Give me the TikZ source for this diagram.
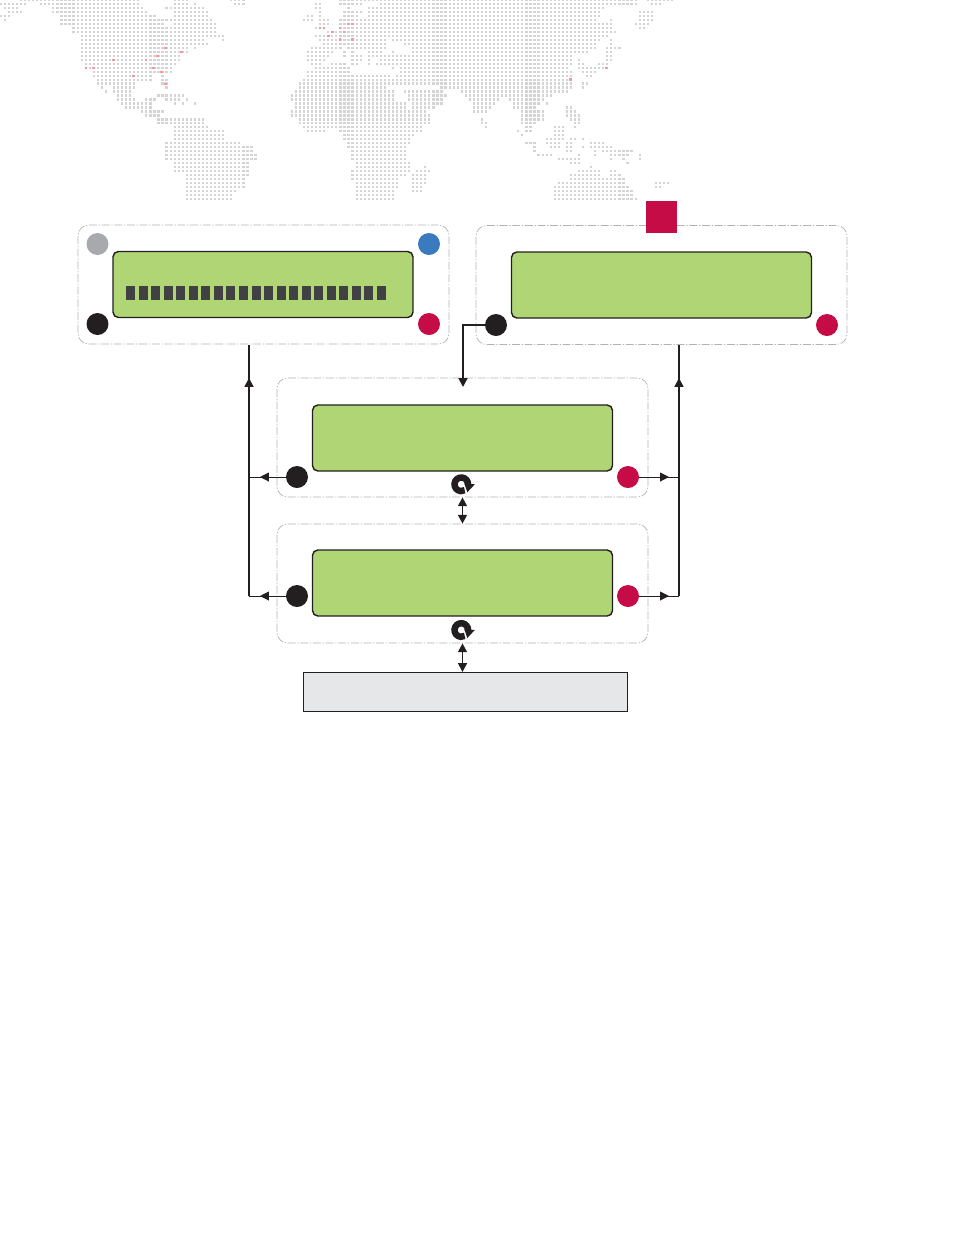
\documentclass[tikz,border=0pt]{standalone}
\usepackage{amsmath,amssymb}
\usetikzlibrary{arrows.meta}
\definecolor{mapgray}{HTML}{D4D4D5}
\definecolor{mapred}{HTML}{F29A9A}
\definecolor{inkblack}{HTML}{231F20}
\definecolor{crimson}{HTML}{C60C46}
\definecolor{portblue}{HTML}{3A7ABF}
\definecolor{portgray}{HTML}{A7A9AC}
\definecolor{lcdgreen}{HTML}{B0D575}
\definecolor{lcdbar}{HTML}{414042}
\definecolor{panelgray}{HTML}{E6E7E8}
\tikzset{
  groupbox/.style={draw=black!30,line width=0.4pt,dash pattern=on 4.5pt off 1pt on 0.7pt off 1pt,
    rounded corners=6pt,minimum width=7.42cm,minimum height=2.38cm,inner sep=0pt},
  lcdbox/.style={draw=inkblack,fill=lcdgreen,line width=0.8pt,rounded corners=3pt,
    minimum width=6cm,minimum height=1.32cm,inner sep=0pt},
  port/.style={circle,minimum size=0.44cm,inner sep=0pt},
  panelbox/.style={draw=inkblack,fill=panelgray,line width=0.6pt,
    minimum width=6.48cm,minimum height=0.78cm,inner sep=0pt},
  lcdcell/.style={fill=lcdbar,minimum width=0.18cm,minimum height=0.28cm,inner sep=0pt},
  bus/.style={draw=inkblack,line width=1.1pt},
  tap/.style={draw=inkblack,line width=0.55pt},
}
% one row of the map: offset, then y/{from/to,...} in thirds of a pixel
\newcommand{\maprows}[2]{%
  \foreach \ry/\runs in {#2}{%
    \foreach \ra/\rb in \runs{%
      \pgfmathtruncatemacro{\ca}{round((\ra+#1-2.4)/12.13)}%
      \pgfmathtruncatemacro{\cb}{round((\rb+#1-2.4)/12.13)}%
      \foreach \c in {\ca,...,\cb}{%
        \fill[mapgray] ({(2.4+12.13*\c)/3-1.1},{\ry*0.995/3-1.1}) rectangle ++(2.2,2.2);
      }%
    }%
  }%
}
\newcommand{\loopicon}[1]{%
  \draw[inkblack,line width=3.7pt] ([shift={(5:6.8)}]#1) arc[start angle=5,end angle=-300,radius=6.8];
  \fill[inkblack] ([shift={(3,-1)}]#1) -- ([shift={(13.5,0)}]#1) -- ([shift={(6,8)}]#1) -- cycle;
}
\begin{document}
\begin{tikzpicture}[x=0.02cm,y=-0.02cm,>={Triangle[length=5pt,width=5pt]}]
\useasboundingbox (0,0) rectangle (954,1235);
% map
\maprows{0}{
0/{60/415,520/560,690/725},
12/{8/80,125/155,165/415,520/555,590/590,710/725,950/965},
24/{20/55,165/430,505/610,950/960},
36/{32/68,165/440,520/615,955/955},
48/{5/32,185/460,520/620,925/940,960/960},
60/{20/20,185/485,505/630,915/940,955/985},
72/{190/490,520/640,955/985},
84/{220/640,945/975},
96/{220/500,510/640,985/1020},
108/{245/605,625/665,950/1020},
120/{245/610,665/665,960/1020},
132/{245/615,970/1020},
144/{245/560,590/590,935/1020},
156/{245/555,925/1000},
168/{245/535,925/985},
180/{245/535,925/975},
192/{255/520,935/965,995/1020},
204/{258/510,945/1020},
216/{280/510,930/1020},
228/{280/450,490/490,925/1020},
240/{290/450,485/500,910/1020},
252/{295/400,485/495,900/1020},
264/{305/305,340/400,497/497,895/1020},
276/{320/320,340/390,890/1020},
288/{355/390,470/550,880/1020},
300/{355/400,440/460,505/535,555/555,880/1020},
312/{365/450,520/520,545/545,580/580,890/1020},
324/{375/450,890/1020},
336/{425/485,880/1020},
348/{445/480,880/1020},
360/{470/510,530/605,905/1020},
372/{470/605,905/1020},
384/{520/625,908/1020},
396/{520/675,925/975},
408/{520/675},
420/{520/670},
432/{495/715},
444/{505/750},
456/{495/760},
468/{505/770},
480/{505/770},
492/{520/745},
504/{520/745},
516/{530/745},
528/{555/745},
540/{565/735},
552/{565/735},
564/{565/735},
576/{565/700},
588/{555/690},
600/{555/690}}
\maprows{1020}{
0/{0/75,85/885,920/990},
12/{0/60,125/800,810/885,930/955},
24/{20/30,85/790},
36/{10/60,85/780,905/935},
48/{10/50,85/780,895/935},
60/{0/770,810/810,895/935},
72/{0/810,890/925},
84/{0/815,895/910},
96/{0/825},
108/{0/800},
120/{0/140,155/780,810/810},
132/{10/10,25/135,200/770,810/810},
144/{30/130,215/770,800/835},
156/{10/10,40/40,85/125,165/165,215/745,800/815},
168/{10/10,35/60,85/125,130/695,800/815},
180/{35/60,85/85,120/690,720/720,800/815},
192/{0/15,35/50,85/85,115/690,715/730,775/800},
204/{0/30,155/155,180/680,715/800},
216/{0/30,180/690,730/770},
228/{0/150,170/690,740/750},
240/{0/690},
252/{0/160,170/690,725/740},
264/{0/130,310/690,725/725},
276/{0/160,190/300,370/680},
288/{0/165,205/320,380/630},
300/{0/165,205/300,390/480,510/610},
312/{0/190,215/300,405/465,525/590,620/620},
324/{0/195,215/275,405/450,525/580,680/695},
336/{0/255,405/440,550/610,680/705},
348/{0/195,200/265,550/610,680/715},
360/{0/265,420/430,550/610,690/715},
372/{0/265,420/440,550/575,585/585,705/715},
384/{0/245,440/440,560/575,650/670,705/705},
396/{0/240,540/540,560/575,640/670},
408/{15/225,550/550,650/670},
420/{15/210,620/670,690/705,725/725},
432/{20/210,560/585,620/660,680/695,750/790},
444/{25/195,585/585,630/660,680/695,725/725,750/810},
456/{35/195,585/585,680/695,765/765,785/870},
468/{40/195,600/630,715/715,765/765,810/860,895/905},
480/{40/195,660/720,810/810,850/850,895/905},
492/{45/205,690/715,860/860},
504/{45/210,250/250,750/750},
516/{35/210,230/265,715/780,810/825},
528/{35/195,225/250,690/780,810/835},
540/{35/170,225/255,690/850},
552/{45/170,225/250,655/850,945/985},
564/{45/170,225/240,645/860,945/955},
576/{45/165,225/240,645/875},
588/{55/160,645/875},
600/{55/160,645/885}}
\foreach \a/\b in {497/144,545/156,472/168,340/180,438/180,258/204,280/204,460/204,485/216,400/228,497/252,960/84,972/84,998/96,985/108,1020/118,1045/72,1058/72,1020/84,1032/96,1058/118,1820/204,1712/238}
  \fill[mapred] ({\a/3-1.3},{\b/3-1.3}) rectangle ++(2.6,2.6);
% groups
\node[groupbox] (groupA) at (263.5,284.5) {};
\node[groupbox] (groupB) at (661.5,285) {};
\node[groupbox] (groupC) at (462.5,437.5) {};
\node[groupbox] (groupD) at (462.5,583.5) {};
\node[lcdbox] (lcdA) at (263,284.5) {};
\node[lcdbox] (lcdB) at (661.5,285) {};
\node[lcdbox] (lcdC) at (462.5,438) {};
\node[lcdbox] (lcdD) at (462.5,583) {};
\node[panelbox] (panel) at (465.5,692) {};
\node[fill=crimson,minimum width=0.63cm,minimum height=0.64cm,inner sep=0pt] (flag) at (661.5,217) {};
\foreach \i in {0,...,20}
  \node[lcdcell] (cell\i) at ({130.5+12.55*\i},293) {};
% ports
\node[port,fill=portgray] (grayA) at (97.5,244) {};
\node[port,fill=portblue] (blueA) at (429,244) {};
\node[port,fill=inkblack] (blackA) at (97.5,324) {};
\node[port,fill=crimson] (redA) at (429,324) {};
\node[port,fill=inkblack] (blackB) at (496,325) {};
\node[port,fill=crimson] (redB) at (827,325) {};
\node[port,fill=inkblack] (blackC) at (297,477) {};
\node[port,fill=crimson] (redC) at (628,477) {};
\node[port,fill=inkblack] (blackD) at (297,596) {};
\node[port,fill=crimson] (redD) at (628,596) {};
\coordinate (iconC) at (461.3,484.3);
\coordinate (iconD) at (461.3,630);
\loopicon{iconC}
\loopicon{iconD}
% connectors
\coordinate (busLtop) at (249,345);
\coordinate (busLtip) at (249,378);
\coordinate (busRtop) at (679,345);
\coordinate (busRtip) at (679,378);
\coordinate (busLc) at (249,477);
\coordinate (busLd) at (249,596);
\coordinate (busRc) at (679,477);
\coordinate (busRd) at (679,596);
\coordinate (downB) at (463,325);
\coordinate (downBtip) at (463,387);
\coordinate (tipLc) at (260,477);
\coordinate (tipLd) at (260,596);
\coordinate (tipRc) at (669,477);
\coordinate (tipRd) at (669,596);
\draw[bus] (busLd) -- (busLtop);
\draw[bus,->] (busLd) -- (busLtip);
\draw[bus] (busRd) -- (busRtop);
\draw[bus,->] (busRd) -- (busRtip);
\draw[tap] (blackC) -- (busLc);
\draw[tap] (blackD) -- (busLd);
\draw[tap] (redC) -- (busRc);
\draw[tap] (redD) -- (busRd);
\draw[tap,->] (blackC) -- (tipLc);
\draw[tap,->] (blackD) -- (tipLd);
\draw[tap,->] (redC) -- (tipRc);
\draw[tap,->] (redD) -- (tipRd);
\draw[bus,->] (blackB) -- (downB) -- (downBtip);
\draw[bus,<->] (groupC.south) -- (groupD.north);
\draw[bus,<->] (groupD.south) -- (groupD.south |- panel.north);
\end{tikzpicture}
\end{document}
